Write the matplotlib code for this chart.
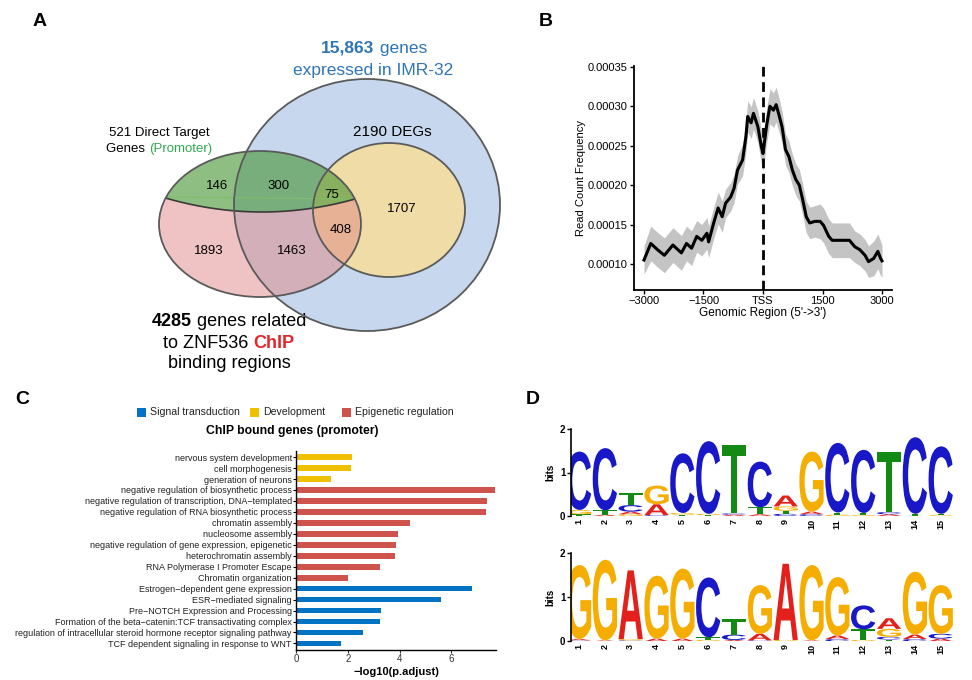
import numpy as np
import matplotlib
matplotlib.use("Agg")
import matplotlib.pyplot as plt
from matplotlib.patches import Ellipse, Polygon, PathPatch, Rectangle
from matplotlib.textpath import TextPath
from matplotlib.font_manager import FontProperties
from matplotlib.offsetbox import TextArea, HPacker, AnnotationBbox
import matplotlib.transforms as mtransforms
from matplotlib.ticker import FormatStrFormatter

plt.rcParams['font.family'] = ['Liberation Sans', 'DejaVu Sans']

# ---------------- DATA ----------------
# Panel A (Venn counts)
venn_counts = {"146": (217, 186), "300": (279, 186), "75": (332, 195), "1707": (402, 209),
               "408": (341, 230), "1893": (209, 251), "1463": (292, 251)}

# Panel B (read count profile around TSS)
profile_x = [-3000, -2829, -2657, -2486, -2271, -2057, -1929, -1800, -1671, -1543, -1414, -1371,
             -1243, -1131, -1029, -943, -814, -729, -643, -514, -429, -386, -300, -240, -129, -43, 0,
             87, 174, 262, 331, 392, 480, 567, 654, 741, 828, 915, 1003, 1090, 1177, 1308, 1439,
             1526, 1657, 1744, 1918, 2180, 2311, 2442, 2572, 2660, 2790, 2895, 2965, 3000]
profile_y = [0.000105, 0.000126, 0.000118, 0.000111, 0.000124, 0.000114, 0.000126, 0.000120,
             0.000135, 0.000130, 0.000139, 0.000128, 0.000152, 0.000171, 0.000160, 0.000177,
             0.000185, 0.000196, 0.000219, 0.000232, 0.000262, 0.000287, 0.000279, 0.000291,
             0.000274, 0.000249, 0.000240,
             0.000274, 0.000300, 0.000295, 0.000302, 0.000291, 0.000274, 0.000245, 0.000236,
             0.000219, 0.000207, 0.000200, 0.000181, 0.000160, 0.000152, 0.000154, 0.000154,
             0.000149, 0.000135, 0.000130, 0.000130, 0.000130, 0.000122, 0.000118, 0.000111,
             0.000103, 0.000107, 0.000116, 0.000107, 0.000104]
profile_err = [0.000018, 0.000022, 0.000022, 0.000022, 0.000022, 0.000022, 0.000022, 0.000022,
               0.000020, 0.000020, 0.000020, 0.000020, 0.000020, 0.000020, 0.000020, 0.000018,
               0.000018, 0.000018, 0.000018, 0.000020, 0.000020, 0.000020, 0.000020, 0.000020,
               0.000020, 0.000022, 0.000022,
               0.000022, 0.000022, 0.000022, 0.000022, 0.000022, 0.000020, 0.000020, 0.000020,
               0.000020, 0.000020, 0.000020, 0.000020, 0.000020, 0.000020, 0.000020, 0.000022,
               0.000022, 0.000022, 0.000022, 0.000022, 0.000022, 0.000020, 0.000020, 0.000020,
               0.000020, 0.000022, 0.000022, 0.000022, 0.000020]
profile_xticks = [-3000, -1500, 0, 1500, 3000]
profile_xticklabels = ["\u22123000", "\u22121500", "TSS", "1500", "3000"]
profile_yticks = [0.00010, 0.00015, 0.00020, 0.00025, 0.00030, 0.00035]

# Panel C (GO / pathway enrichment)
go_terms = ["nervous system development", "cell morphogenesis", "generation of neurons",
            "negative regulation of biosynthetic process",
            "negative regulation of transcription, DNA\u2212templated",
            "negative regulation of RNA biosynthetic process", "chromatin assembly",
            "nucleosome assembly", "negative regulation of gene expression, epigenetic",
            "heterochromatin assembly", "RNA Polymerase I Promoter Escape",
            "Chromatin organization", "Estrogen\u2212dependent gene expression",
            "ESR\u2212mediated signaling", "Pre\u2212NOTCH Expression and Processing",
            "Formation of the beta\u2212catenin:TCF transactivating complex",
            "regulation of intracellular steroid hormone receptor signaling pathway",
            "TCF dependent signaling in response to WNT"]
go_values = [2.18, 2.14, 1.34, 7.67, 7.37, 7.32, 4.40, 3.95, 3.87, 3.81, 3.25, 2.02,
             6.78, 5.60, 3.30, 3.25, 2.57, 1.74]
go_groups = ["Development"] * 3 + ["Epigenetic regulation"] * 9 + ["Signal transduction"] * 6
group_names = ["Signal transduction", "Development", "Epigenetic regulation"]
group_colors = {"Signal transduction": "#0073C2", "Development": "#EFC000",
                "Epigenetic regulation": "#CD534C"}

# Panel D (motif logos, bits per base, positions 1..15)
logo_positions = list(range(1, 16))
logo1_A = [0.00, 0.03, 0.06, 0.25, 0.00, 0.00, 0.03, 0.04, 0.25, 0.06, 0.00, 0.00, 0.04, 0.00, 0.00]
logo1_C = [1.34, 1.43, 0.15, 0.02, 1.37, 1.67, 0.03, 1.05, 0.05, 0.04, 1.60, 1.45, 0.05, 1.76, 1.55]
logo1_G = [0.10, 0.00, 0.04, 0.43, 0.04, 0.03, 0.00, 0.00, 0.10, 1.38, 0.03, 0.02, 0.00, 0.00, 0.02]
logo1_T = [0.04, 0.10, 0.27, 0.00, 0.03, 0.02, 1.58, 0.16, 0.07, 0.00, 0.05, 0.05, 1.38, 0.05, 0.03]
logo2_A = [0.03, 0.02, 1.55, 0.06, 0.06, 0.00, 0.03, 0.15, 1.72, 0.02, 0.08, 0.00, 0.24, 0.10, 0.06]
logo2_C = [0.02, 0.00, 0.02, 0.00, 0.00, 1.35, 0.12, 0.02, 0.00, 0.00, 0.05, 0.54, 0.06, 0.05, 0.11]
logo2_G = [1.67, 1.82, 0.03, 1.42, 1.58, 0.03, 0.00, 1.10, 0.03, 1.70, 1.32, 0.03, 0.18, 1.42, 1.10]
logo2_T = [0.00, 0.00, 0.00, 0.00, 0.00, 0.06, 0.35, 0.00, 0.00, 0.00, 0.00, 0.24, 0.04, 0.00, 0.00]
base_colors = {"A": "#e3201b", "C": "#1818c8", "G": "#f5ad00", "T": "#138a13"}

# ---------------- FIGURE ----------------
W, H = 972, 680
fig = plt.figure(figsize=(W / 100, H / 100), dpi=100)


def px_axes(l, t, r, b):
    return fig.add_axes([l / W, 1 - b / H, (r - l) / W, (b - t) / H])


ov = fig.add_axes([0, 0, 1, 1])
ov.set_xlim(0, W)
ov.set_ylim(H, 0)
ov.axis('off')

# panel letters
for lab, (x, y) in {"A": (40, 22), "B": (546, 22), "C": (22, 400), "D": (533, 400)}.items():
    ov.text(x, y, lab, fontsize=14, fontweight='bold', ha='center', va='center')


def mixed(x, y, parts, size):
    areas = [TextArea(t, textprops=dict(fontsize=size, color=c, fontweight=w)) for t, c, w in parts]
    box = HPacker(children=areas, align="baseline", pad=0, sep=0)
    ab = AnnotationBbox(box, (x, y), xycoords='data', frameon=False, box_alignment=(0.5, 0.5), pad=0)
    ov.add_artist(ab)


# ---------------- PANEL A: Venn ----------------
edge = '#5a5a5a'
blue = Ellipse((367, 205), 266, 252, fc='#c6d7ee', ec='none', zorder=1)
yellow = Ellipse((389, 210), 152, 134, fc='#efdca6', ec='none', zorder=2)
ov.add_patch(blue)
ov.add_patch(yellow)

cx, cy, ea, eb = 260, 224, 101, 73
xs = np.linspace(140, 380, 200)
curve_y = 197 + 15 * (1 - ((xs - 262) / 100.0) ** 2)
upper = Polygon(np.vstack([np.column_stack([xs, curve_y]), [[380, 100], [140, 100]]]),
                closed=True, transform=ov.transData, fc='none', ec='none')
lower = Polygon(np.vstack([np.column_stack([xs, curve_y]), [[380, 320], [140, 320]]]),
                closed=True, transform=ov.transData, fc='none', ec='none')
pink = Ellipse((cx, cy), 2 * ea, 2 * eb, fc='#e08888', ec='none', alpha=0.5, zorder=3)
green = Ellipse((cx, cy), 2 * ea, 2 * eb, fc='#45932f', ec='none', alpha=0.6, zorder=3)
ov.add_patch(pink)
ov.add_patch(green)
ov.add_patch(upper)
ov.add_patch(lower)
pink.set_clip_path(lower)
green.set_clip_path(upper)
# chord line
ov.plot([168, 353], [197, 199], color='#7dbd6c', lw=0.8, zorder=4)
divider, = ov.plot(xs, curve_y, color='#3a3a3a', lw=1.2, zorder=5)
clip_e = Ellipse((cx, cy), 2 * ea, 2 * eb, transform=ov.transData, fc='none', ec='none')
ov.add_patch(clip_e)
divider.set_clip_path(clip_e)
for (c, w_, h_) in [((367, 205), 266, 252), ((389, 210), 152, 134), ((cx, cy), 2 * ea, 2 * eb)]:
    ov.add_patch(Ellipse(c, w_, h_, fc='none', ec=edge, lw=1.3, zorder=6))

for t, (x, y) in venn_counts.items():
    ov.text(x, y, t, fontsize=9.5, ha='center', va='center', zorder=7)

mixed(374, 48, [("15,863", "#2e75b6", "bold"), (" genes", "#2e75b6", "normal")], 12.5)
ov.text(373, 70, "expressed in IMR-32", fontsize=12.5, color='#2e75b6', ha='center', va='center')
ov.text(392, 132, "2190 DEGs", fontsize=11, ha='center', va='center')
ov.text(159, 133, "521 Direct Target", fontsize=9.5, ha='center', va='center')
mixed(159, 149, [("Genes ", "black", "normal"), ("(Promoter)", "#2fa84f", "normal")], 9.5)
mixed(229, 322, [("4285", "black", "bold"), (" genes related", "black", "normal")], 13)
mixed(229, 343, [("to ZNF536 ", "black", "normal"), ("ChIP", "#e3262a", "bold")], 13)
ov.text(229, 364, "binding regions", fontsize=13, ha='center', va='center')

# ---------------- PANEL B: profile ----------------
axb = px_axes(634, 66, 892, 290)
axb.set_facecolor('none')
py = np.array(profile_y)
pe = np.array(profile_err)
axb.fill_between(profile_x, py - pe, py + pe, color='#c4c4c4', lw=0)
axb.plot(profile_x, profile_y, color='black', lw=2.2)
axb.axvline(0, color='black', lw=2, ls=(0, (3.5, 2)))
axb.set_xlim(-3252, 3252)
axb.set_ylim(0.000067, 0.000351)
axb.set_xticks(profile_xticks)
axb.set_xticklabels(profile_xticklabels)
axb.set_yticks(profile_yticks)
axb.yaxis.set_major_formatter(FormatStrFormatter('%.5f'))
for s in ['top', 'right']:
    axb.spines[s].set_visible(False)
for s in ['left', 'bottom']:
    axb.spines[s].set_linewidth(1.3)
axb.tick_params(labelsize=8, length=3, width=1, pad=1.5)
axb.set_xlabel("Genomic Region (5'->3')", fontsize=8.5, labelpad=0.5)
axb.set_ylabel("Read Count Frequency", fontsize=8, labelpad=1)

# ---------------- PANEL C: enrichment bars ----------------
axc = px_axes(296, 450.5, 496, 650)
axc.set_facecolor('none')
n = len(go_terms)
ypos = np.arange(n)[::-1]
axc.barh(ypos, go_values, height=0.52, color=[group_colors[g] for g in go_groups])
axc.set_ylim(-0.6, n - 0.4)
axc.set_xlim(0, 7.72)
axc.set_yticks(ypos)
axc.set_yticklabels(go_terms, fontsize=6.5, color='#222222')
axc.set_xticks([0, 2, 4, 6])
axc.tick_params(axis='x', labelsize=7, colors='#333333', length=2, pad=1)
axc.tick_params(axis='y', length=2, pad=1)
for s in ['top', 'right']:
    axc.spines[s].set_visible(False)
axc.spines['left'].set_linewidth(1)
axc.spines['bottom'].set_linewidth(1)
axc.set_xlabel("\u2212log10(p.adjust)", fontsize=8, fontweight='bold', labelpad=2)
ov.text(292, 431, "ChIP bound genes (promoter)", fontsize=8.8, fontweight='bold', ha='center', va='center')
# legend
leg_x = {"Signal transduction": 137, "Development": 250, "Epigenetic regulation": 342}
for g in group_names:
    x0 = leg_x[g]
    ov.add_patch(Rectangle((x0, 407.5), 9, 9, fc=group_colors[g], ec='none'))
    ov.text(x0 + 13, 412, g, fontsize=7.6, ha='left', va='center', color='#222222')

# ---------------- PANEL D: sequence logos ----------------
fp = FontProperties(family='Liberation Sans', weight='bold')
letter_paths = {}
for L in "ACGT":
    tp = TextPath((0, 0), L, size=1, prop=fp)
    letter_paths[L] = tp


def draw_logo(ax, A, C, G, T):
    for i, pos in enumerate(logo_positions):
        stack = sorted([("A", A[i]), ("C", C[i]), ("G", G[i]), ("T", T[i])], key=lambda z: z[1])
        y0 = 0.0
        for L, h in stack:
            if h <= 0:
                continue
            tp = letter_paths[L]
            bb = tp.get_extents()
            w = 0.94
            tr = mtransforms.Affine2D().translate(-bb.x0, -bb.y0).scale(w / bb.width, h / bb.height) \
                .translate(pos - w / 2, y0)
            ax.add_patch(PathPatch(tr.transform_path(tp), fc=base_colors[L], ec='none', lw=0))
            y0 += h
    ax.set_xlim(0.69, 15.5)
    ax.set_ylim(0, 2)
    ax.set_xticks(logo_positions)
    ax.set_xticklabels([str(p) for p in logo_positions], rotation=90, fontsize=6.5, fontweight='bold')
    ax.set_yticks([0, 1, 2])
    ax.set_yticklabels(["0", "1", "2"], fontsize=7, fontweight='bold')
    ax.tick_params(axis='x', length=0, pad=2)
    ax.tick_params(axis='y', length=3, width=1, pad=1)
    for s in ['top', 'right', 'bottom']:
        ax.spines[s].set_visible(False)
    ax.spines['left'].set_linewidth(1.2)
    ax.set_ylabel("bits", fontsize=7, fontweight='bold', labelpad=3)
    ax.set_facecolor('none')


axd1 = px_axes(571, 429, 953.6, 516)
draw_logo(axd1, logo1_A, logo1_C, logo1_G, logo1_T)
axd2 = px_axes(571, 552.7, 953.6, 641.3)
draw_logo(axd2, logo2_A, logo2_C, logo2_G, logo2_T)

fig.savefig("out.png", dpi=100)
